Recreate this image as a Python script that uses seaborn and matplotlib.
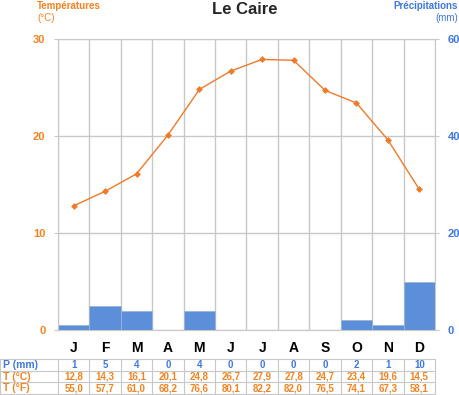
import seaborn as sns
import pandas as pd
import matplotlib.pyplot as plt

mois = ["J", "F", "M", "A", "M", "J", "J", "A", "S", "O", "N", "D"]
precip = [1, 5, 4, 0, 4, 0, 0, 0, 0, 2, 1, 10]
temp_c = [12.8, 14.3, 16.1, 20.1, 24.8, 26.7, 27.9, 27.8, 24.7, 23.4, 19.6, 14.5]
temp_f = [55.0, 57.7, 61.0, 68.2, 76.6, 80.1, 82.2, 82.0, 76.5, 74.1, 67.3, 58.1]

orange = "#f5821f"
bleu = "#3f78e0"
barre = "#5b8fd9"
gris = "#c8c8c8"

sns.set_style("white")
plt.rcParams["font.family"] = ["Liberation Sans", "DejaVu Sans"]

df = pd.DataFrame({"idx": range(12), "mois": mois, "P": precip, "T": temp_c})

fig = plt.figure(figsize=(4.6, 3.95), dpi=100)
W, H = 460, 395
x0, x1, y0, y1 = 58, 435, 39, 330
ax_p = fig.add_axes([x0 / W, 1 - y1 / H, (x1 - x0) / W, (y1 - y0) / H])

sns.barplot(data=df, x="idx", y="P", color=barre, width=1.0, ax=ax_p,
            saturation=1, edgecolor="#9fb3d3", linewidth=0.6, zorder=2)
ax_p.set_xlim(-0.5, 11.5)
ax_p.set_ylim(0, 60)
ax_p.set_xticks([i - 0.5 for i in range(13)])
ax_p.set_xticklabels([])
ax_p.set_xlabel("")
ax_p.set_ylabel("")
ax_p.grid(True, color=gris, linewidth=1.0, zorder=0)
ax_p.set_axisbelow(True)
for s in ax_p.spines.values():
    s.set_color(gris)

ax_t = ax_p.twinx()
sns.lineplot(data=df, x="idx", y="T", ax=ax_t, color="#f07a28", linewidth=1.0,
             marker="D", markersize=3.5, markeredgewidth=0, zorder=5)
ax_t.set_ylim(0, 30)
ax_t.set_ylabel("")
ax_t.set_xlabel("")
for s in ax_t.spines.values():
    s.set_visible(False)

# precipitation scale on the right, temperature on the left
ax_p.set_yticks([0, 20, 40, 60])
ax_p.yaxis.tick_right()
ax_p.tick_params(axis="y", left=False, labelleft=False, right=True,
                 labelright=True, length=3, color=gris, labelsize=8,
                 labelcolor=bleu, pad=6)
ax_p.tick_params(axis="x", length=4, color=gris, direction="out")
ax_t.set_yticks([0, 10, 20, 30])
ax_t.tick_params(axis="y", right=False, labelright=False, left=True,
                 labelleft=True, length=3, color=gris, labelsize=8,
                 labelcolor=orange, pad=6)
for t in ax_p.get_yticklabels() + ax_t.get_yticklabels():
    t.set_fontweight("bold")

# month labels
for i, m in enumerate(mois):
    ax_p.text(i, -0.062, m, transform=ax_p.get_xaxis_transform(), ha="center",
              va="center", fontsize=10, fontweight="bold", color="black")

# titles
fig.text(245 / W, 1 - 10 / H, "Le Caire", ha="center", va="center",
         fontsize=12, fontweight="bold")
fig.text(37 / W, 1 - 6 / H, "Températures", ha="left", va="center",
         fontsize=7, fontweight="bold", color=orange)
fig.text(37 / W, 1 - 18 / H, "(°C)", ha="left", va="center",
         fontsize=7, color=orange)
fig.text(458 / W, 1 - 6 / H, "Précipitations", ha="right", va="center",
         fontsize=7, fontweight="bold", color=bleu)
fig.text(458 / W, 1 - 18 / H, "(mm)", ha="right", va="center",
         fontsize=7, color=bleu)

# table under the chart
ty0, ty1 = 359, 394
ax_tab = fig.add_axes([x0 / W, 1 - ty1 / H, (x1 - x0) / W, (ty1 - ty0) / H])
ax_tab.set_xlim(-0.5, 11.5)
ax_tab.set_ylim(3, 0)
ax_tab.axis("off")
lab_x = -0.5 - x0 / (x1 - x0) * 12
rows = [
    ("P (mm)", [str(v) for v in precip], bleu),
    ("T (°C)", [f"{v:.1f}".replace(".", ",") for v in temp_c], orange),
    ("T (°F)", [f"{v:.1f}".replace(".", ",") for v in temp_f], orange),
]
for r, (lab, vals, col) in enumerate(rows):
    ax_tab.text(lab_x + 0.08, r + 0.5, lab, ha="left", va="center",
                fontsize=7.5, fontweight="bold", color=col, clip_on=False)
    for i, v in enumerate(vals):
        ax_tab.text(i, r + 0.5, v, ha="center", va="center", fontsize=7,
                    fontweight="bold", color=col)
for r in range(4):
    ax_tab.plot([lab_x, 11.5], [r, r], color=gris, linewidth=0.8, clip_on=False)
for c in [lab_x] + [i - 0.5 for i in range(13)]:
    ax_tab.plot([c, c], [0, 3], color=gris, linewidth=0.8, clip_on=False)

fig.savefig("out.png", dpi=100)
